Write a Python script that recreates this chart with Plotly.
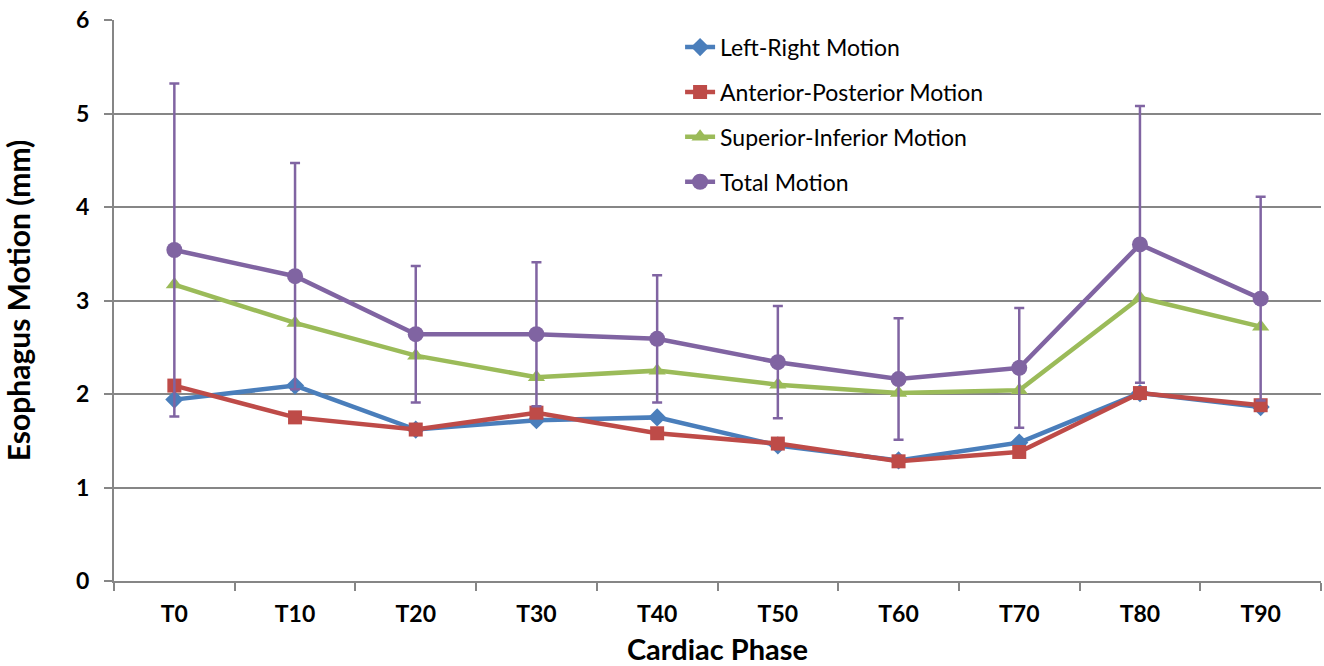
import plotly.graph_objects as go

phases = ["T0", "T10", "T20", "T30", "T40", "T50", "T60", "T70", "T80", "T90"]
left_right = [1.94, 2.09, 1.62, 1.72, 1.75, 1.45, 1.29, 1.48, 2.01, 1.86]
ant_post = [2.09, 1.75, 1.62, 1.80, 1.58, 1.47, 1.28, 1.38, 2.01, 1.88]
sup_inf = [3.17, 2.76, 2.41, 2.18, 2.25, 2.10, 2.01, 2.04, 3.03, 2.72]
total = [3.54, 3.26, 2.64, 2.64, 2.59, 2.34, 2.16, 2.28, 3.60, 3.02]
total_err = [1.78, 1.21, 0.73, 0.77, 0.68, 0.60, 0.65, 0.64, 1.48, 1.09]

FONT = "Lato"
grid = "#868686"

fig = go.Figure()
series = [
    ("Left-Right Motion", left_right, "#4A7EBB", "diamond", 14, None),
    ("Anterior-Posterior Motion", ant_post, "#BE4B48", "square", 14, None),
    ("Superior-Inferior Motion", sup_inf, "#9BBB59", "triangle-up", 15, None),
    ("Total Motion", total, "#8064A2", "circle", 16, total_err),
]
for i, (name, vals, col, sym, size, err) in enumerate(series):
    kw = {}
    if err is not None:
        kw["error_y"] = dict(type="data", array=err, visible=True, color=col,
                             thickness=2.5, width=5)
    fig.add_trace(go.Scatter(
        x=phases, y=vals, name=name, mode="lines+markers",
        line=dict(color=col, width=4.5),
        marker=dict(symbol=sym, size=size, color=col),
        legendgroup=f"g{i}", **kw))

fig.update_layout(
    width=1324, height=666,
    paper_bgcolor="white", plot_bgcolor="white",
    margin=dict(l=114, r=3, t=20, b=85),
    font=dict(family=FONT, color="black"),
    showlegend=True,
    legend=dict(x=0.469, y=0.99, xanchor="left", yanchor="top",
                bgcolor="rgba(0,0,0,0)", font=dict(size=23, family=FONT),
                tracegroupgap=12, itemwidth=30),
)
fig.update_xaxes(
    type="category", tickson="boundaries", range=[-0.5, 9.5],
    automargin=False,
    showline=True, linecolor=grid, linewidth=2,
    ticks="outside", ticklen=8, tickcolor=grid, tickwidth=1.5,
    showgrid=False, zeroline=False,
    tickfont=dict(size=23, family=FONT),
    ticklabelstandoff=11,
    tickprefix="<b>", ticksuffix="</b>",
    title=dict(text="<b>Cardiac Phase</b>", font=dict(size=29, family=FONT), standoff=24),
)
fig.update_yaxes(
    range=[0, 6], dtick=1, tickmode="linear",
    automargin=False, ticklabeloverflow="allow",
    showline=True, linecolor=grid, linewidth=2,
    ticks="outside", ticklen=8, tickcolor=grid, tickwidth=1.5,
    showgrid=True, gridcolor=grid, gridwidth=1.5, zeroline=False,
    tickfont=dict(size=23, family=FONT),
    ticklabelstandoff=10,
    tickprefix="<b>", ticksuffix="</b>",
    title=dict(text="<b>Esophagus Motion (mm)</b>", font=dict(size=30, family=FONT), standoff=40),
)

# remove the default 8px page margin so the figure sits at the window's top-left
fig.write_html("out.html", config={"displayModeBar": False},
               post_script="document.body.style.margin='0';")
